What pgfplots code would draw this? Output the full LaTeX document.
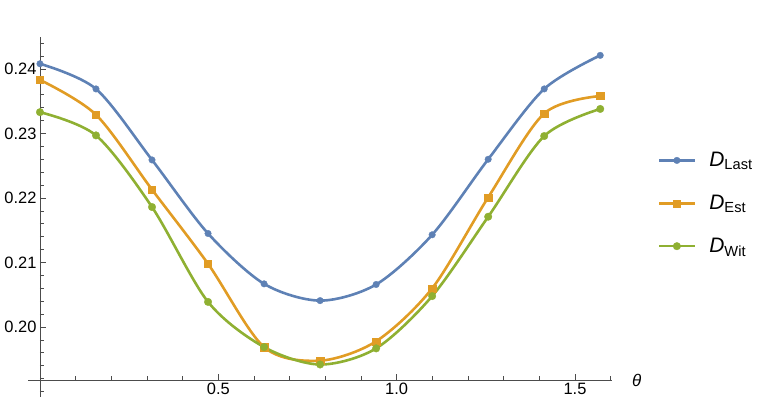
\documentclass[border=0pt]{standalone}
\usepackage{fontspec}
\setmainfont{Liberation Sans}
\usepackage{pgfplots}
\pgfplotsset{compat=1.18}
\usetikzlibrary{calc}

\definecolor{mblue}{rgb}{0.368417,0.506779,0.709798}
\definecolor{morange}{rgb}{0.880722,0.611041,0.142051}
\definecolor{mgreen}{rgb}{0.560181,0.691569,0.194885}
\definecolor{axgray}{gray}{0.3}

\begin{document}
\begin{tikzpicture}
\begin{axis}[
  scale only axis,
  width=583.6bp, height=342.7bp,
  xmin=-0.0327, xmax=1.6035,
  ymin=0.1918, ymax=0.2449,
  axis x line=bottom, axis y line=middle,
  axis line style={-, axgray, line width=0.9bp},
  clip=false,
  xtick={0.5,1,1.5},
  minor xtick={0.1,0.2,0.3,0.4,0.6,0.7,0.8,0.9,1.1,1.2,1.3,1.4,1.6},
  ytick={0.20,0.21,0.22,0.23,0.24},
  minor ytick={0.192,0.194,0.196,0.198,0.202,0.204,0.206,0.208,0.212,0.214,0.216,0.218,0.222,0.224,0.226,0.228,0.232,0.234,0.236,0.238,0.242,0.244},
  xticklabel style={/pgf/number format/.cd,fixed,fixed zerofill,precision=1},
  yticklabel style={/pgf/number format/.cd,fixed,fixed zerofill,precision=2},
  /pgf/number format/assume math mode=true,
  tick label style={font=\fontsize{16.5}{19}\selectfont, black},
  tick align=inside,
  major tick length=6bp, minor tick length=4bp,
  tick style={axgray, line width=0.8bp},
  legend style={at={(rel axis cs:1.0788,0.5156)}, anchor=west, draw=none, fill=none,
    inner sep=0pt, row sep=27bp, font=\fontsize{21}{24}\selectfont,
    nodes={inner sep=0pt},
    /tikz/every odd column/.append style={column sep=13.7bp}},
  legend cell align=left,
  legend image code/.code={\draw[mark repeat=2,mark phase=2] plot coordinates {(0bp,0bp) (17.5bp,0bp) (35bp,0bp)};},
]
\addplot[mblue, line width=2.6bp, smooth, tension=0.5, mark=*, mark size=3.3bp, mark options={solid, fill=mblue, draw=mblue, line width=0.3bp}]
coordinates {(0,0.2408) (0.15708,0.2369) (0.31416,0.2259) (0.47124,0.2145) (0.62832,0.2067) (0.7854,0.2041) (0.94248,0.2066) (1.09956,0.2143) (1.25664,0.2260) (1.41372,0.2369) (1.5708,0.2421)};
\addlegendentry{\textit{D}\textsubscript{Last}}
\addplot[morange, line width=2.6bp, smooth, tension=0.5, mark=square*, mark size=3.6bp, mark options={solid, fill=morange, draw=morange, line width=0.3bp}]
coordinates {(0,0.2383) (0.15708,0.2329) (0.31416,0.2213) (0.47124,0.2098) (0.62832,0.1969) (0.7854,0.1948) (0.94248,0.1978) (1.09956,0.2060) (1.25664,0.2201) (1.41372,0.2331) (1.5708,0.2358)};
\addlegendentry{\textit{D}\textsubscript{Est}}
\addplot[mgreen, line width=2.6bp, smooth, tension=0.5, mark=*, mark size=3.8bp, mark options={solid, fill=mgreen, draw=mgreen, line width=0.3bp}]
coordinates {(0,0.2333) (0.15708,0.2297) (0.31416,0.2186) (0.47124,0.2039) (0.62832,0.1969) (0.7854,0.1942) (0.94248,0.1967) (1.09956,0.2048) (1.25664,0.2171) (1.41372,0.2296) (1.5708,0.2338)};
\addlegendentry{\textit{D}\textsubscript{Wit}}
\draw[axgray, line width=0.9bp] (axis cs:0,0.1918) -- (axis cs:0,0.1891);
\draw[axgray, line width=0.8bp] (axis cs:0,0.1900) -- ++(4bp,0bp);
\node[anchor=west, inner sep=0pt, xshift=20bp, font=\fontsize{17}{19}\selectfont] at (axis cs:1.6035,0.1918) {\textit{θ}};
\coordinate (o) at (axis cs:-0.0327,0.1918);
\end{axis}
\pgfresetboundingbox
\path[use as bounding box] ($(o)+(-28.3bp,-31bp)$) rectangle ($(o)+(734.7bp,380bp)$);
\end{tikzpicture}
\end{document}
